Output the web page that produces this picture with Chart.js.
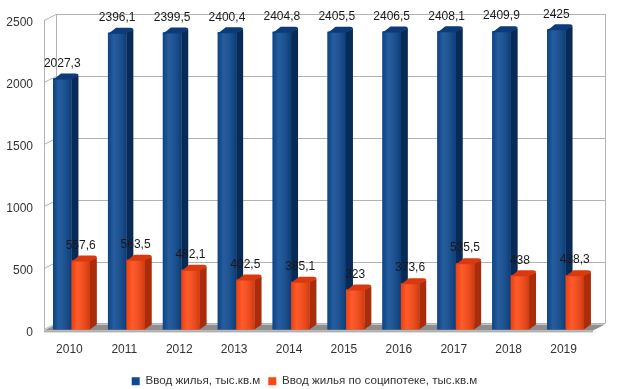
<!DOCTYPE html>
<html>
<head>
<meta charset="utf-8">
<script src="https://cdn.jsdelivr.net/npm/chart.js@4/dist/chart.umd.min.js"></script>
<style>
  html, body { margin: 0; padding: 0; background: #fff; }
  #wrap { width: 620px; height: 389px; position: relative; }
</style>
</head>
<body>
<div id="wrap"><canvas id="chart"></canvas></div>
<script>
// ── Data ─────────────────────────────────────────────────
const years = ['2010', '2011', '2012', '2013', '2014', '2015', '2016', '2017', '2018', '2019'];
const housing = [2027.3, 2396.1, 2399.5, 2400.4, 2404.8, 2405.5, 2406.5, 2408.1, 2409.9, 2425];
const socialMortgage = [557.6, 563.5, 482.1, 402.5, 385.1, 323, 373.6, 535.5, 438, 438.3];
const yTicks = [0, 500, 1000, 1500, 2000, 2500];

const seriesNames = ['Ввод жилья, тыс.кв.м', 'Ввод жилья по соципотеке, тыс.кв.м'];

const FONT = '"Liberation Sans", Arial, sans-serif';
const WALL = { dx: 12, dy: -6 };
const BAR_DEPTH = { dx: 7, dy: -5 };

const palette = [
  { front: '#0d4a92', side: '#082a57', top: '#0b3b78' },
  { front: '#ff4712', side: '#a92d0b', top: '#d9390d' },
];

const fmt = v => String(v).replace('.', ',');

// ── 3D wall + floor ─────────────────────────────────────
const wallPlugin = {
  id: 'wall',
  afterLayout(chart) {
    // nudge legend to sit where the original one does
    const lg = chart.legend;
    lg.left += 8; lg.right += 8;
    lg.top += 8; lg.bottom += 8;
  },
  beforeDatasetsDraw(chart) {
    const { ctx, chartArea: a, scales: { y } } = chart;
    ctx.save();
    ctx.strokeStyle = '#b3b3b3';
    ctx.lineWidth = 1;
    yTicks.forEach(v => {
      const py = Math.round(y.getPixelForValue(v)) + 0.5;
      ctx.beginPath();
      ctx.moveTo(a.left, py);
      ctx.lineTo(a.left + WALL.dx, py + WALL.dy);
      ctx.lineTo(a.right + WALL.dx, py + WALL.dy);
      ctx.stroke();
    });
    // back verticals + front axis
    ctx.beginPath();
    ctx.moveTo(a.left + WALL.dx + 0.5, a.top + WALL.dy);
    ctx.lineTo(a.left + WALL.dx + 0.5, a.bottom + WALL.dy);
    ctx.moveTo(a.right + WALL.dx + 0.5, a.top + WALL.dy);
    ctx.lineTo(a.right + WALL.dx + 0.5, a.bottom + WALL.dy);
    ctx.moveTo(a.left + 0.5, a.top);
    ctx.lineTo(a.left + 0.5, a.bottom + 1);
    ctx.stroke();
    // floor
    ctx.fillStyle = '#8e8e8e';
    ctx.beginPath();
    ctx.moveTo(a.left, a.bottom + 1);
    ctx.lineTo(a.right, a.bottom + 1);
    ctx.lineTo(a.right + WALL.dx, a.bottom + 1 + WALL.dy);
    ctx.lineTo(a.left + WALL.dx, a.bottom + 1 + WALL.dy);
    ctx.closePath();
    ctx.fill();
    ctx.fillStyle = '#b0b0b0';
    ctx.fillRect(a.left, a.bottom + 1, a.right - a.left, 2);
    ctx.restore();
  },
};

// ── 3D bar faces (blue first, orange in front of it) ─────
const boxPlugin = {
  id: 'box3d',
  afterDatasetsDraw(chart) {
    const { ctx } = chart;
    ctx.save();
    chart.data.datasets.forEach((ds, i) => {
      const col = palette[i];
      chart.getDatasetMeta(i).data.forEach(bar => {
        const { x, y, base, width } = bar.getProps(['x', 'y', 'base', 'width'], true);
        const l = x - width / 2, r = x + width / 2;
        bar.draw(ctx);
        // shading on the front face
        const g = ctx.createLinearGradient(l, 0, r, 0);
        g.addColorStop(0, 'rgba(0,0,0,0.08)');
        g.addColorStop(0.3, 'rgba(255,255,255,0.10)');
        g.addColorStop(1, 'rgba(0,0,0,0.18)');
        ctx.fillStyle = g;
        ctx.fillRect(l, y, width, base - y);
        // side
        ctx.fillStyle = col.side;
        ctx.beginPath();
        ctx.moveTo(r, y);
        ctx.lineTo(r + BAR_DEPTH.dx, y + BAR_DEPTH.dy + 2);
        ctx.lineTo(r + BAR_DEPTH.dx, base + BAR_DEPTH.dy);
        ctx.lineTo(r, base);
        ctx.closePath();
        ctx.fill();
        // top
        ctx.fillStyle = col.top;
        ctx.beginPath();
        ctx.moveTo(l, y + 2);
        ctx.quadraticCurveTo(l, y, l + 3, y - 1);
        ctx.lineTo(l + BAR_DEPTH.dx + 1, y + BAR_DEPTH.dy);
        ctx.lineTo(r + BAR_DEPTH.dx - 3, y + BAR_DEPTH.dy);
        ctx.quadraticCurveTo(r + BAR_DEPTH.dx, y + BAR_DEPTH.dy, r + BAR_DEPTH.dx, y + BAR_DEPTH.dy + 2);
        ctx.lineTo(r, y + 1);
        ctx.lineTo(l, y + 1);
        ctx.closePath();
        ctx.fill();
      });
    });
    ctx.restore();
  },
};

// ── Value labels ────────────────────────────────────────
const valueLabels = {
  id: 'valueLabels',
  afterDraw(chart) {
    const { ctx } = chart;
    ctx.save();
    ctx.font = '12px ' + FONT;
    ctx.fillStyle = '#1a1a1a';
    ctx.textAlign = 'center';
    ctx.textBaseline = 'middle';
    chart.data.datasets.forEach((ds, i) => {
      chart.getDatasetMeta(i).data.forEach((bar, j) => {
        ctx.fillText(fmt(ds.data[j]), bar.x, bar.y - 15);
      });
    });
    ctx.restore();
  },
};

new Chart(document.getElementById('chart'), {
  type: 'bar',
  data: {
    labels: years,
    datasets: [
      { label: seriesNames[0], data: housing, backgroundColor: palette[0].front },
      { label: seriesNames[1], data: socialMortgage, backgroundColor: palette[1].front },
    ],
  },
  options: {
    responsive: true,
    maintainAspectRatio: false,
    animation: false,
    categoryPercentage: 0.67,
    barPercentage: 1,
    layout: { padding: { top: 20, left: 0, right: 27, bottom: 0 } },
    scales: {
      x: {
        grid: { display: false },
        border: { display: false },
        ticks: { color: '#333', font: { family: FONT, size: 12 }, padding: 5, labelOffset: -2 },
        afterFit: s => { s.height = 30; },
      },
      y: {
        min: 0,
        max: 2500,
        afterBuildTicks: s => { s.ticks = yTicks.map(v => ({ value: v })); },
        grid: { display: false, drawTicks: false },
        border: { display: false },
        ticks: {
          color: '#333',
          font: { family: FONT, size: 12 },
          padding: 11,
          labelOffset: 3,
          callback: v => String(v),
        },
        afterFit: s => { s.width = 44; },
      },
    },
    plugins: {
      legend: {
        position: 'bottom',
        labels: {
          color: '#333',
          font: { family: FONT, size: 11.6 },
          boxWidth: 8,
          boxHeight: 8,
          padding: 8,
        },
      },
      tooltip: { enabled: false },
    },
  },
  plugins: [wallPlugin, boxPlugin, valueLabels],
});
</script>
</body>
</html>
